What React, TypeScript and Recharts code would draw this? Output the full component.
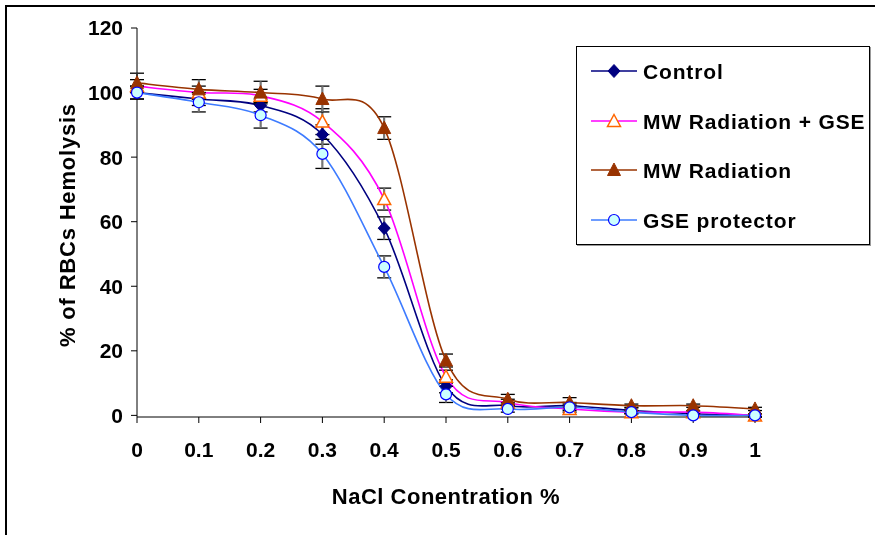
import * as React from 'react';
import { LineChart, Line, XAxis, YAxis, ErrorBar, Legend, Label } from 'recharts';

// NaCl concentration (%)
const concentrations = [0, 0.1, 0.2, 0.3, 0.4, 0.5, 0.6, 0.7, 0.8, 0.9, 1];
const hemolysisTicks = [0, 20, 40, 60, 80, 100, 120];

// % of RBCs hemolysis
const control = [100, 98, 96, 87, 58, 9, 3, 3, 1.5, 0.5, 0];
const controlErr = [2, 2, 2, 3, 3.5, 2, 1, 1, 0.8, 0.5, 0.5];
const mwGse = [102, 100, 99, 91, 67, 12, 4, 2, 1, 1, 0];
const mwGseErr = [2, 2, 2, 4, 3.4, 2, 1, 1, 0.5, 0.5, 0.5];
const mwRadiation = [103, 101, 100, 98, 89, 17, 5, 4, 3, 3, 2];
const mwRadiationErr = [3, 3, 3.5, 4, 3.5, 2, 1.5, 1.5, 0.5, 0.5, 0.5];
const gseProtector = [100, 97, 93, 81, 46, 6.5, 2, 2.5, 1, 0, 0];
const gseProtectorErr = [2, 3, 4, 4.5, 3.4, 2.5, 1, 1, 0.5, 0.5, 0.5];

const rows = concentrations.map((x, i) => ({
  x,
  control: control[i],
  controlErr: controlErr[i],
  mwGse: mwGse[i],
  mwGseErr: mwGseErr[i],
  mwRadiation: mwRadiation[i],
  mwRadiationErr: mwRadiationErr[i],
  gseProtector: gseProtector[i],
  gseProtectorErr: gseProtectorErr[i],
}));

const FONT = '"Liberation Sans", Arial, sans-serif';

// Excel-like smoothed line (Catmull-Rom through every point)
const excelSmooth = (ctx: any) => {
  let pts: number[][] = [];
  return {
    areaStart() {},
    areaEnd() {},
    lineStart() {
      pts = [];
    },
    point(x: number, y: number) {
      pts.push([+x, +y]);
    },
    lineEnd() {
      if (!pts.length) return;
      ctx.moveTo(pts[0][0], pts[0][1]);
      for (let i = 0; i < pts.length - 1; i++) {
        const p0 = pts[i - 1] || pts[i];
        const p1 = pts[i];
        const p2 = pts[i + 1];
        const p3 = pts[i + 2] || p2;
        ctx.bezierCurveTo(
          p1[0] + (p2[0] - p0[0]) / 6,
          p1[1] + (p2[1] - p0[1]) / 6,
          p2[0] - (p3[0] - p1[0]) / 6,
          p2[1] - (p3[1] - p1[1]) / 6,
          p2[0],
          p2[1]
        );
      }
    },
  };
};

type MarkerKind = 'diamond' | 'openTriangle' | 'triangle' | 'circle';

function Marker({ kind, cx, cy }: { kind: MarkerKind; cx: number; cy: number }) {
  if (kind === 'diamond') {
    return <path d={`M${cx},${cy - 6.5}L${cx + 6},${cy}L${cx},${cy + 6.5}L${cx - 6},${cy}Z`} fill='#000080' stroke='#000080' />;
  }
  if (kind === 'openTriangle') {
    return <path d={`M${cx},${cy - 6.5}L${cx + 6.5},${cy + 5.5}L${cx - 6.5},${cy + 5.5}Z`} fill='#fff' stroke='#FF6600' strokeWidth={1.5} />;
  }
  if (kind === 'triangle') {
    return <path d={`M${cx},${cy - 7}L${cx + 6.5},${cy + 5.5}L${cx - 6.5},${cy + 5.5}Z`} fill='#993300' stroke='#993300' />;
  }
  return <circle cx={cx} cy={cy} r={5.5} fill='#CCFFFF' stroke='#0000FF' strokeWidth={1.2} />;
}

const series = [
  { key: 'control', name: 'Control', stroke: '#000080', marker: 'diamond' as MarkerKind },
  { key: 'mwGse', name: 'MW Radiation + GSE', stroke: '#FF00FF', marker: 'openTriangle' as MarkerKind },
  { key: 'mwRadiation', name: 'MW Radiation', stroke: '#993300', marker: 'triangle' as MarkerKind },
  { key: 'gseProtector', name: 'GSE protector', stroke: '#3D7BFF', marker: 'circle' as MarkerKind },
];

function LegendBox() {
  return (
    <div
      style={{
        width: 294,
        height: 199,
        border: '1px solid #000',
        boxShadow: '1px 1px 0 #999',
        background: '#fff',
        fontFamily: FONT,
        fontWeight: 'bold',
        fontSize: 21,
        letterSpacing: 0.85,
        boxSizing: 'border-box',
      }}
    >
      {series.map((s, i) => (
        <div key={s.key} style={{ position: 'absolute', left: 14, top: 12 + i * 49.5, height: 26, display: 'flex', alignItems: 'center' }}>
          <svg width={50} height={26} style={{ display: 'block' }}>
            <line x1={1} y1={13} x2={47} y2={13} stroke={s.stroke} strokeWidth={1.5} />
            <Marker kind={s.marker} cx={24} cy={13} />
          </svg>
          <span style={{ marginLeft: 3, whiteSpace: 'nowrap', position: 'relative', top: 1 }}>{s.name}</span>
        </div>
      ))}
    </div>
  );
}

export default function App() {
  const tickStyle = { fontFamily: FONT, fontWeight: 'bold' as const, fontSize: 21, fill: '#000' };
  const titleStyle = { fontFamily: FONT, fontWeight: 'bold' as const, fontSize: 22 };
  return (
    <>
      <div style={{ position: 'fixed', left: 5, top: 5, width: 1000, height: 1000, border: '2px solid #000' }} />
      <div style={{ position: 'fixed', left: 0, top: 0 }}>
        <LineChart width={875} height={535} data={rows} margin={{ top: 28, right: 120, bottom: 58, left: 0 }}>
          <XAxis
            dataKey='x'
            type='number'
            domain={[0, 1]}
            ticks={concentrations}
            stroke='#000'
            tickSize={6}
            tickMargin={19}
            tick={tickStyle}
            height={60}
          >
            <Label
              content={() => (
                <text x={446} y={504} textAnchor='middle' style={{ ...titleStyle, letterSpacing: 0.5 }}>
                  NaCl Conentration %
                </text>
              )}
            />
          </XAxis>
          <YAxis
            type='number'
            domain={[0, 120]}
            ticks={hemolysisTicks}
            stroke='#000'
            tickSize={6}
            tickMargin={8}
            tick={tickStyle}
            width={137}
          >
            <Label
              content={() => (
                <text
                  x={0}
                  y={0}
                  transform='translate(67,225) rotate(-90)'
                  textAnchor='middle'
                  dominantBaseline='central'
                  style={{ ...titleStyle, letterSpacing: 0.8 }}
                >
                  % of RBCs Hemolysis
                </text>
              )}
            />
          </YAxis>
          <Legend
            layout='vertical'
            align='center'
            verticalAlign='middle'
            wrapperStyle={{ left: 576, top: 46, width: 294, height: 199 }}
            content={() => <LegendBox />}
          />
          {series.map((s) => (
            <Line
              key={s.key}
              dataKey={s.key}
              name={s.name}
              type={excelSmooth as any}
              stroke={s.stroke}
              strokeWidth={1.6}
              isAnimationActive={false}
              dot={(p: any) => <Marker key={`${s.key}-${p.index}`} kind={s.marker} cx={p.cx} cy={p.cy} />}
              activeDot={false}
            >
              <ErrorBar dataKey={`${s.key}Err`} width={7} stroke='#000' strokeWidth={1.3} isAnimationActive={false} />
              <ErrorBar dataKey={`${s.key}Err`} width={0} stroke='#777' strokeWidth={2} isAnimationActive={false} />
            </Line>
          ))}
        </LineChart>
      </div>
    </>
  );
}
